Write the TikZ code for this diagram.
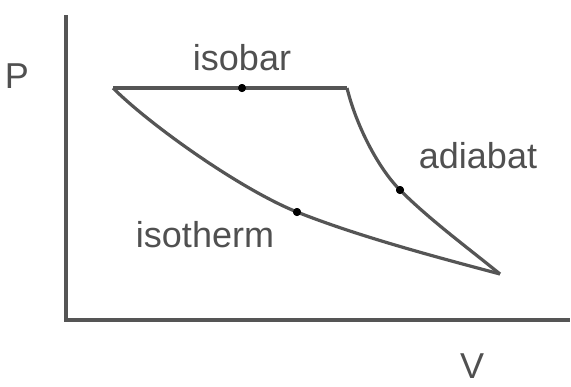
\documentclass[tikz,border=0pt]{standalone}
\usepackage{fontspec}
\setmainfont{Liberation Sans}
\definecolor{pvgray}{RGB}{85,85,85}
\definecolor{pvtext}{RGB}{80,80,80}
\usetikzlibrary{positioning}

\begin{document}
\begin{tikzpicture}[x=0.5pt, y=-0.5pt,
    axisline/.style={draw=pvgray, line width=2pt},
    curveline/.style={draw=pvgray, line width=1.6pt, line join=round},
    statedot/.style={circle, fill=black, inner sep=0pt, minimum size=4pt},
    pvlabel/.style={text=pvtext, font=\fontsize{18}{20}\selectfont, inner sep=0pt}]
  \useasboundingbox (0,0) rectangle (571,386);

  % axes
  \coordinate (O) at (66,320);
  \coordinate (Ptop) at (66,15);
  \coordinate (Vend) at (570,320);
  \draw[axisline] (Ptop) -- (O) -- (Vend);
  \node[pvlabel] (plabel) at (17,76) {P};
  \node[pvlabel] (vlabel) at (472,366) {V};

  % corners of the cycle
  \coordinate (A) at (113,88);
  \coordinate (B) at (347,88);
  \coordinate (C) at (500,274);
  \node[statedot] (isobardot) at (242,88) {};
  \node[statedot] (adiabatdot) at (400,190) {};
  \node[statedot] (isothermdot) at (297,212) {};

  % cycle
  \draw[curveline] (A) -- (B);
  \draw[curveline] (B) .. controls (356,125) and (378,168) .. (adiabatdot.center)
    .. controls (430,220) and (468,248) .. (C);
  \draw[curveline] (A) .. controls (150,125) and (240,189) .. (isothermdot.center)
    .. controls (360,237) and (440,258) .. (C);
  \node[statedot] at (isobardot) {};
  \node[statedot] at (adiabatdot) {};
  \node[statedot] at (isothermdot) {};

  % labels
  \node[pvlabel] (isobarlabel) at (242,58) {isobar};
  \node[pvlabel] (adiabatlabel) at (478,156) {adiabat};
  \node[pvlabel] (isothermlabel) at (205,235) {isotherm};
\end{tikzpicture}
\end{document}
